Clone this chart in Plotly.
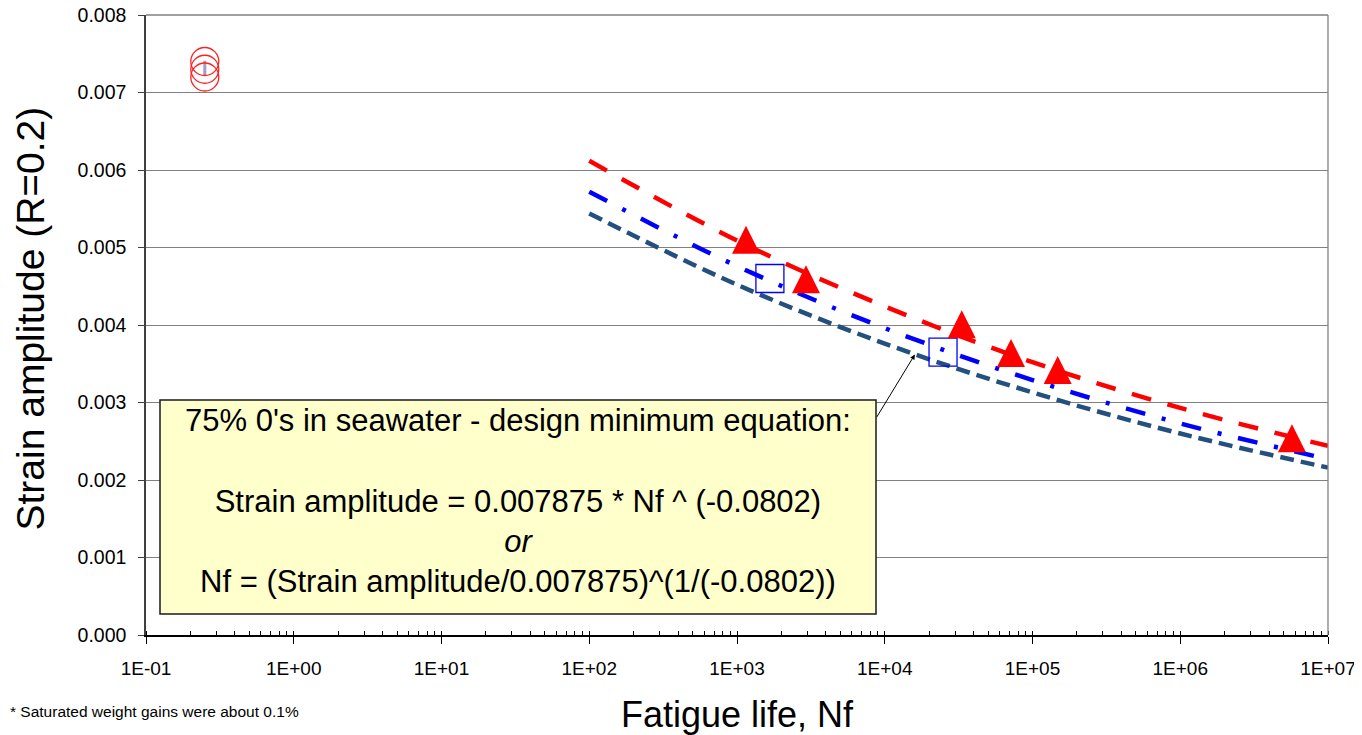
import numpy as np
import plotly.graph_objects as go

FONT = "Liberation Sans, Arial, sans-serif"

# ---------------- data ----------------
line_n = [1e2, 1e3, 1e4, 1e5, 1e6, 1e7]
design_min_strain = [0.00544, 0.00452, 0.00376, 0.00313, 0.00260, 0.00216]   # dark blue short dash
blue_fit_strain = [0.00572, 0.00476, 0.00396, 0.00329, 0.00273, 0.00227]     # blue dash-dot
red_fit_strain = [0.00612, 0.00509, 0.00424, 0.00352, 0.00293, 0.00244]      # red dash

tri_n = [1150, 2930, 33200, 71500, 148000, 5700000]
tri_strain = [0.00510, 0.00459, 0.00401, 0.00364, 0.00342, 0.00254]

sq_n = [1670, 24800]
sq_strain = [0.00460, 0.00365]

circ_n = [0.25, 0.25, 0.25]
circ_strain = [0.00740, 0.00730, 0.00720]

bar_n = [0.25, 0.25]
bar_strain = [0.00741, 0.00722]

x_tick_vals = [1e-1, 1e0, 1e1, 1e2, 1e3, 1e4, 1e5, 1e6, 1e7]
x_tick_text = ["1E-01", "1E+00", "1E+01", "1E+02", "1E+03", "1E+04", "1E+05", "1E+06", "1E+07"]

y_tick_vals = [0.000, 0.001, 0.002, 0.003, 0.004, 0.005, 0.006, 0.007, 0.008]
y_tick_text = ["0.000", "0.001", "0.002", "0.003", "0.004", "0.005", "0.006", "0.007", "0.008"]

arrow_target_n = 16000
arrow_target_strain = 0.00362

box_title = "75% 0's in seawater - design minimum equation:"
box_eq1 = "Strain amplitude = 0.007875 * Nf ^ (-0.0802)"
box_or = "or"
box_eq2 = "Nf = (Strain amplitude/0.007875)^(1/(-0.0802))"
footnote = "* Saturated weight gains were about 0.1%"

# plot area on screen (page has an 8px body margin)
PL, PR, PT, PB = 146, 1328, 15, 635
PW, PH = PR - PL, PB - PT
OFF = 8


def px(xs):
    return (xs - PL) / PW


def py(ys):
    return (PB - ys) / PH


# ---------------- figure ----------------
fig = go.Figure()

fig.add_trace(go.Scatter(x=line_n, y=design_min_strain, mode="lines",
                         line=dict(color="#24507f", width=4.5, dash="14px,7px", shape="spline"),
                         hoverinfo="skip"))
fig.add_trace(go.Scatter(x=line_n, y=blue_fit_strain, mode="lines",
                         line=dict(color="#0000ff", width=4.5, dash="20px,17px,4px,17px", shape="spline"),
                         hoverinfo="skip"))
fig.add_trace(go.Scatter(x=line_n, y=red_fit_strain, mode="lines",
                         line=dict(color="#ff0000", width=4.5, dash="20px,17px", shape="spline"),
                         hoverinfo="skip"))

fig.add_trace(go.Scatter(x=sq_n, y=sq_strain, mode="markers",
                         marker=dict(symbol="square-open", size=28, color="#0000ff",
                                     line=dict(color="#0000ff", width=1.3))))

fig.add_trace(go.Scatter(x=tri_n, y=tri_strain, mode="markers",
                         marker=dict(symbol="arrow-down", angle=180, standoff=14, size=28,
                                     color="#ff0000", line=dict(width=0))))

fig.add_trace(go.Scatter(x=bar_n, y=bar_strain, mode="lines",
                         line=dict(color="#a49cc8", width=3)))
fig.add_trace(go.Scatter(x=circ_n, y=circ_strain, mode="markers",
                         marker=dict(symbol="circle-open", size=28, color="#ff2020",
                                     line=dict(color="#ff2020", width=1.3))))

W, H = 1362 - OFF, 735 - OFF
fig.update_layout(
    width=W, height=H,
    margin=dict(l=PL - OFF, r=W - (PL - OFF) - PW, t=PT - OFF, b=H - (PT - OFF) - PH,
                autoexpand=False),
    paper_bgcolor="white", plot_bgcolor="white",
    showlegend=False,
    font=dict(family=FONT, color="black"),
)

fig.update_xaxes(
    type="log", range=[-1, 7], automargin=False,
    tickvals=x_tick_vals, ticktext=x_tick_text,
    ticks="outside", ticklen=7, tickwidth=1.3, tickcolor="black",
    showline=True, linecolor="black", linewidth=1.5,
    showgrid=False, zeroline=False,
    tickfont=dict(size=19, family=FONT, color="black"),
    ticklabelstandoff=8, ticklabeloverflow="allow",
    minor=dict(ticks="inside", ticklen=4, tickwidth=1, tickcolor="black", dtick="D1", showgrid=False),
)

fig.update_yaxes(
    range=[0, 0.008000001], automargin=False,
    tickvals=y_tick_vals, ticktext=y_tick_text,
    ticks="outside", ticklen=6, tickwidth=1.3, tickcolor="#404040",
    showline=True, linecolor="#404040", linewidth=1.5,
    showgrid=True, gridcolor="#808080", gridwidth=1.3,
    zeroline=False,
    tickfont=dict(size=19.5, family=FONT, color="black"),
    ticklabelstandoff=8, ticklabeloverflow="allow",
)

# top gridline and right border of plot area
fig.add_shape(type="line", xref="paper", yref="paper", x0=0, x1=1, y0=1, y1=1,
              line=dict(color="#808080", width=1.3))
fig.add_shape(type="line", xref="paper", yref="paper", x0=1, x1=1, y0=0, y1=1,
              line=dict(color="#808080", width=1.3))

# equation box
fig.add_shape(type="rect", xref="paper", yref="paper",
              x0=px(160), x1=px(876), y0=py(614), y1=py(400),
              fillcolor="#ffffcc", line=dict(color="#1a1a1a", width=1.5), layer="above")

fig.add_annotation(
    xref="paper", yref="paper", x=px(518), y=py(500.5),
    xanchor="center", yanchor="middle", showarrow=False, align="center",
    text=f"{box_title}<br> <br>{box_eq1}<br><i>{box_or}</i><br>{box_eq2}",
    font=dict(size=31, family=FONT, color="black"),
)

# arrow from box to design-minimum line
fig.add_annotation(
    xref="x", yref="y", x=np.log10(arrow_target_n), y=arrow_target_strain,
    ax=-39, ay=64, text="", showarrow=True,
    arrowhead=2, arrowsize=1, arrowwidth=1, arrowcolor="black",
)

# axis titles
fig.add_annotation(
    xref="paper", yref="paper", x=px(737), y=py(714),
    xanchor="center", yanchor="middle", showarrow=False,
    text="Fatigue life, Nf", font=dict(size=36, family=FONT, color="black"),
)
fig.add_annotation(
    xref="paper", yref="paper", x=px(30), y=py(318.5),
    xanchor="center", yanchor="middle", showarrow=False, textangle=-90,
    text="Strain amplitude (R=0.2)", font=dict(size=39, family=FONT, color="black"),
)

# footnote
fig.add_annotation(
    xref="paper", yref="paper", x=px(OFF), y=py(711),
    xanchor="left", yanchor="middle", showarrow=False,
    text=footnote, font=dict(size=15.5, family=FONT, color="black"),
)

fig.write_html("out.html")
